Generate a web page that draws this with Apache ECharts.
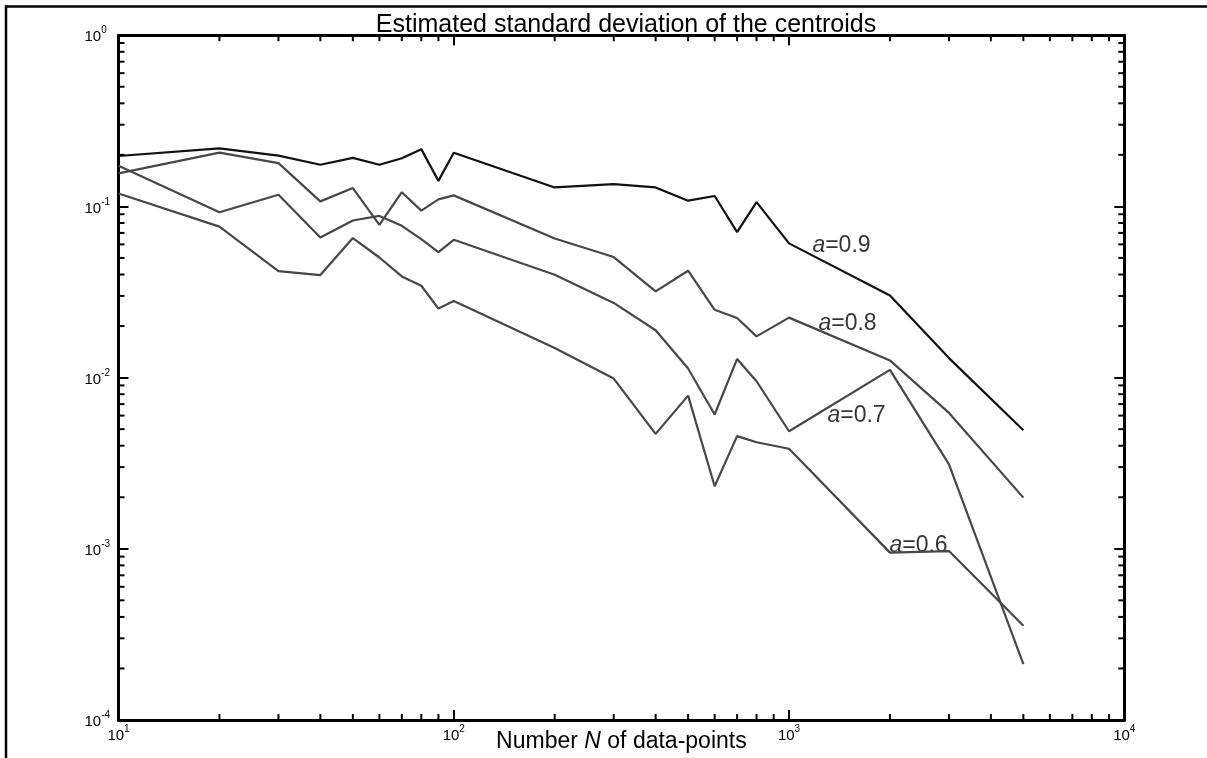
<!DOCTYPE html>
<html>
<head>
<meta charset="utf-8">
<script src="https://cdn.jsdelivr.net/npm/echarts@6/dist/echarts.min.js"></script>
<style>
html,body{margin:0;padding:0;background:#fff;}
#chart{width:1207px;height:758px;}
</style>
</head>
<body>
<div id="chart"></div>
<script>
// ---- data ----
const N = [10,20,30,40,50,60,70,80,90,100,200,300,400,500,600,700,800,1000,2000,3000,5000];
const a09 = [0.197,0.2185,0.198,0.175,0.192,0.175,0.191,0.216,0.141,0.206,0.129,0.135,0.129,0.108,0.115,0.0707,0.106,0.0608,0.0302,0.0130,0.00493];
const a08 = [0.156,0.206,0.179,0.107,0.128,0.078,0.121,0.0945,0.110,0.116,0.0649,0.0506,0.0319,0.0421,0.0249,0.0223,0.0174,0.0224,0.0126,0.00622,0.00199];
const a07 = [0.173,0.0925,0.117,0.0658,0.0827,0.088,0.077,0.0644,0.0541,0.0638,0.0399,0.0273,0.0189,0.0113,0.00609,0.01285,0.00952,0.00486,0.0111,0.00311,0.000212];
const a06 = [0.119,0.0762,0.0419,0.0397,0.0653,0.0503,0.039,0.0344,0.0253,0.028,0.0149,0.00987,0.00469,0.00785,0.00232,0.00455,0.00419,0.00384,0.00095,0.00097,0.000355];
const seriesNames = ['0.9','0.8','0.7','0.6'];
// label anchors (N, value) for the curve annotations
const labelAnchors = [[1174,0.0588],[1224,0.02065],[1302,0.00603],[1993,0.001038]];
const xMinorTicks = [20,30,40,50,60,70,80,90,200,300,400,500,600,700,800,900,2000,3000,4000,5000,6000,7000,8000,9000];
const yMinorTicks = [0.0002,0.0003,0.0004,0.0005,0.0006,0.0007,0.0008,0.0009,0.002,0.003,0.004,0.005,0.006,0.007,0.008,0.009,0.02,0.03,0.04,0.05,0.06,0.07,0.08,0.09,0.2,0.3,0.4,0.5,0.6,0.7,0.8,0.9];
const titleText = 'Estimated standard deviation of the centroids';

const FONT = "'Liberation Sans', Arial, Helvetica, sans-serif";
const chart = echarts.init(document.getElementById('chart'), null, {renderer:'canvas'});

function pair(vals){ return N.map((n,i)=>[n, vals[i]]); }
const allSeries = [a09,a08,a07,a06];
const colors = ['#111111','#474747','#474747','#474747'];

function powLabel(v){
  const e = Math.round(Math.log10(v));
  return '{b|10}{s|' + e + '}';
}
const labelRich = {
  b:{fontSize:15, fontFamily:FONT, color:'#000', padding:[4,0,0,0]},
  s:{fontSize:10, fontFamily:FONT, color:'#000', verticalAlign:'top'}
};
const axisLineStyle = {color:'#000', width:3};
const majorTick = {show:true, inside:true, length:10, lineStyle:{color:'#000', width:2}};

const minorData = xMinorTicks.map(v=>[v,1e-4,0]).concat(yMinorTicks.map(v=>[10,v,1]));

const series = allSeries.map((vals,i)=>({
  type:'line', name:'a='+seriesNames[i], data:pair(vals), showSymbol:false, symbol:'none',
  lineStyle:{color:colors[i], width:2.2}, z:3, animation:false
}));
series.push({
  type:'scatter', data:labelAnchors.map((p,i)=>[p[0],p[1],seriesNames[i]]), symbolSize:0,
  silent:true, animation:false,
  label:{show:true, position:[0,0], align:'left', verticalAlign:'middle',
    formatter:(p)=>'{i|a}=' + p.data[2],
    fontSize:23, fontFamily:FONT, color:'#000',
    rich:{i:{fontSize:23, fontFamily:FONT, fontStyle:'italic', color:'#000'}}}
});
series.push({
  type:'custom', data:minorData, encode:{x:0,y:1}, silent:true, animation:false, clip:false, z:5,
  renderItem:function(params, api){
    const kind = api.value(2);
    const p = api.coord([api.value(0), api.value(1)]);
    const cs = params.coordSys;
    const st = {stroke:'#000', lineWidth:2};
    const L = 6;
    if(kind === 0){
      const yb = cs.y + cs.height, yt = cs.y;
      return {type:'group', children:[
        {type:'line', shape:{x1:p[0],y1:yb,x2:p[0],y2:yb-L}, style:st},
        {type:'line', shape:{x1:p[0],y1:yt,x2:p[0],y2:yt+L}, style:st}
      ]};
    } else {
      const xl = cs.x, xr = cs.x + cs.width;
      return {type:'group', children:[
        {type:'line', shape:{x1:xl,y1:p[1],x2:xl+L,y2:p[1]}, style:st},
        {type:'line', shape:{x1:xr,y1:p[1],x2:xr-L,y2:p[1]}, style:st}
      ]};
    }
  }
});

const option = {
  backgroundColor:'#fff',
  animation:false,
  title:{text:titleText, left:621, top:8, textAlign:'center',
    textStyle:{fontSize:25, fontWeight:'normal', fontFamily:FONT, color:'#000'}},
  grid:{left:118.5, right:82.7, top:35.2, bottom:37, containLabel:false},
  xAxis:[{
    type:'log', logBase:10, min:10, max:10000, position:'bottom',
    axisLine:{show:true, lineStyle:axisLineStyle}, axisTick:majorTick,
    splitLine:{show:false}, minorTick:{show:false},
    axisLabel:{show:true, margin:4, showMinLabel:true, showMaxLabel:true, hideOverlap:false,
      formatter:powLabel, rich:labelRich},
    name:'Number {i|N} of data-points', nameLocation:'middle', nameGap:10, nameMoveOverlap:false,
    nameTextStyle:{fontSize:23, fontFamily:FONT, color:'#000', verticalAlign:'top',
      rich:{i:{fontSize:23, fontFamily:FONT, fontStyle:'italic', color:'#000'}}}
  },{
    type:'log', logBase:10, min:10, max:10000, position:'top',
    axisLine:{show:true, lineStyle:axisLineStyle}, axisTick:majorTick,
    splitLine:{show:false}, axisLabel:{show:false}
  }],
  yAxis:[{
    type:'log', logBase:10, min:0.0001, max:1, position:'left',
    axisLine:{show:true, lineStyle:axisLineStyle}, axisTick:majorTick,
    splitLine:{show:false}, minorTick:{show:false},
    axisLabel:{show:true, margin:34, align:'left', showMinLabel:true, showMaxLabel:true, hideOverlap:false,
      formatter:powLabel, rich:labelRich}
  },{
    type:'log', logBase:10, min:0.0001, max:1, position:'right',
    axisLine:{show:true, lineStyle:axisLineStyle}, axisTick:majorTick,
    splitLine:{show:false}, axisLabel:{show:false}
  }],
  graphic:[{
    type:'polyline', silent:true, z:100,
    shape:{points:[[6,760],[6,6.5],[1210,6.5]]},
    style:{stroke:'#000', lineWidth:2.5, fill:null}
  }],
  series: series
};
chart.setOption(option);
</script>
</body>
</html>
